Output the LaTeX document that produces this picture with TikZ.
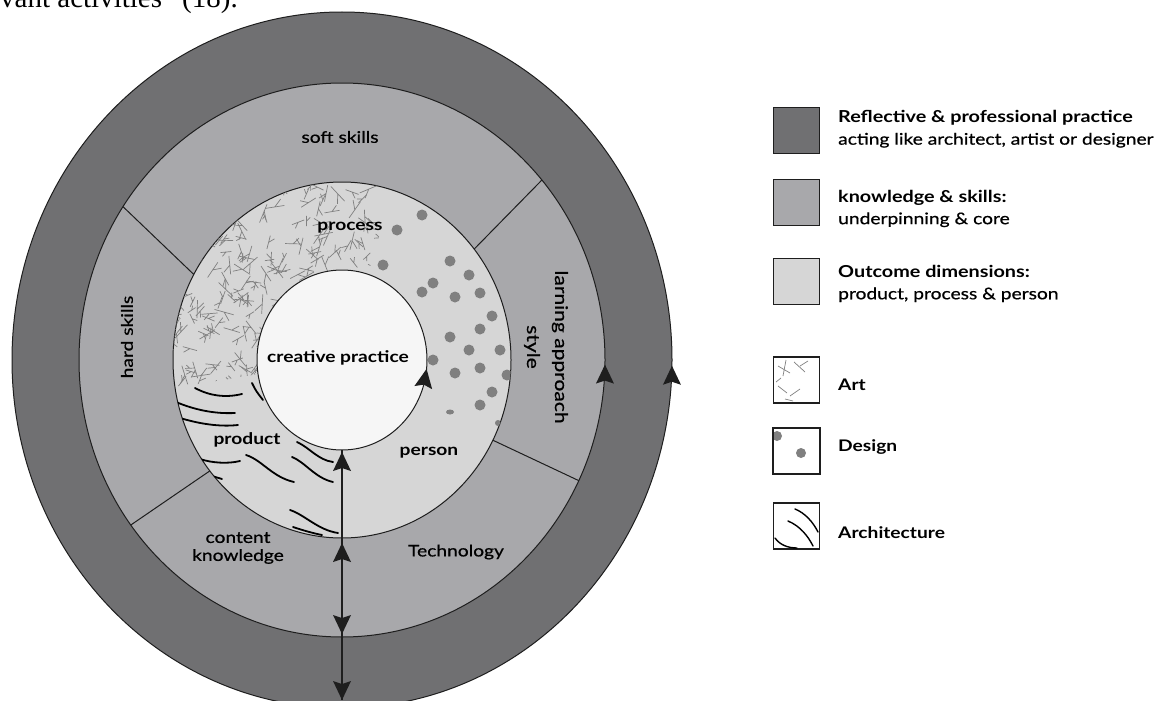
\documentclass[tikz,border=0pt]{standalone}
\usepackage{fontspec}
\setmainfont{Lato}[FakeStretch=1.2]
\newfontfamily\medfont{Lato}[FakeStretch=1.2,FakeBold=0.7]
\newfontfamily\serifx{Liberation Serif}
\newcommand\lgheadfont{\normalfont\bfseries\fontsize{16.5}{22}\selectfont}
\usetikzlibrary{arrows.meta,shapes.geometric,calc}
\definecolor{ringdark}{RGB}{112,112,114}
\definecolor{ringmid}{RGB}{168,168,171}
\definecolor{ringlight}{RGB}{214,214,214}
\definecolor{corec}{RGB}{246,246,246}
\definecolor{edgec}{RGB}{30,30,30}
\definecolor{artc}{RGB}{128,128,128}
\definecolor{dotc}{RGB}{128,128,128}
\begin{document}
\begin{tikzpicture}[x=1pt,y=-1pt,
  ring/.style={ellipse, draw=edgec, line width=1pt, inner sep=0pt, outer sep=0pt},
  divider/.style={draw=edgec, line width=1pt},
  lbl/.style={font=\medfont\fontsize{16}{18}\selectfont, text=black, align=center, inner sep=1pt},
  blbl/.style={font=\bfseries\fontsize{16}{18}\selectfont, text=black, align=center, inner sep=1pt},
  lgbox/.style={draw=edgec, line width=1.4pt, minimum width=46pt, minimum height=46pt, inner sep=0pt},
  lgtext/.style={font=\medfont\fontsize{16}{22}\selectfont, align=left, anchor=west, inner sep=0pt, text=black},
  artline/.style={draw=artc, line width=0.7pt},
  archline/.style={draw=black, line width=1.8pt, line cap=round},
  uptip/.pic={\fill[edgec] (0,0) -- (-9,19) -- (0,16) -- (9,19) -- cycle;},
  axis/.style={draw=edgec, line width=1.2pt}]
\useasboundingbox (0,0) rectangle (1167,701);
\fill[white] (0,0) rectangle (1167,701);

% clipped caption line of the surrounding text
\node[font=\serifx\fontsize{29}{29}\selectfont, anchor=base west, inner sep=0pt] (cap) at (0,8) {vant activities” (18).};

% rings
\node[ring, fill=ringdark, minimum width=660pt, minimum height=696pt] (outerE) at (342,360) {};
\node[ring, fill=ringmid, minimum width=526pt, minimum height=554pt] (know) at (342,360) {};
\node[ring, fill=ringlight, minimum width=338pt, minimum height=356pt] (outcome) at (342,360) {};

% dividers
\draw[divider] (outcome.150) -- (know.145);
\draw[divider] (outcome.40) -- (know.42);
\draw[divider] (outcome.-28) -- (know.-27);
\draw[divider] (outcome.220) -- (know.218);

% textures
\begin{scope}
  \clip (342,360) ellipse [x radius=169pt, y radius=178pt];
  % Art
  \begin{scope}
    \clip (342,360) -- (405,150) -- (150,150) -- (150,392) -- cycle;
    \pgfmathsetseed{12}
    \foreach \i in {1,...,320}{
      \pgfmathsetmacro\xx{165+240*rnd}
      \pgfmathsetmacro\yy{178+222*rnd}
      \pgfmathsetmacro\aa{360*rnd}
      \pgfmathsetmacro\ll{9+11*rnd}
      \pgfmathsetmacro\hl{\ll/2}
      \pgfmathsetmacro\bb{\aa+(rnd>0.5?45:-45)}
      \draw[artline] (\xx,\yy) -- ++(\aa:\ll) (\xx,\yy) ++(\aa:\hl) -- ++(\bb:\hl);
    }
  \end{scope}
  % Design
  \foreach \p in {(397,230),(422,215),(383,265),(450,261),(469,275),(433,283),(422,292),(455,297),(480,293),(492,316),(480,329),(450,337),(469,350),(500,350),(433,360),(455,373),(480,368),(507,375),(492,392),(480,405)}
    \fill[dotc] \p circle (5.5pt);
  \fill[dotc] (450,412) ellipse [x radius=4pt, y radius=2.5pt];
  \fill[dotc] (498,423) circle (3pt);
  % Architecture
  \draw[archline] (195,388) .. controls (210,396) and (225,398) .. (242,394);
  \draw[archline] (176,402) .. controls (195,410) and (215,414) .. (235,413);
  \draw[archline] (180,418) .. controls (200,424) and (220,427) .. (238,425);
  \draw[archline] (200,459) .. controls (212,463) and (228,464) .. (240,461);
  \draw[archline] (246,455) .. controls (262,460) and (272,477) .. (294,482);
  \draw[archline] (292,457) .. controls (305,462) and (315,478) .. (333,482);
  \draw[archline] (297,442) .. controls (310,448) and (318,460) .. (333,462);
  \draw[archline] (290,510) .. controls (305,515) and (318,530) .. (338,533);
  \draw[archline] (293,527) .. controls (302,530) and (312,533) .. (322,535);
  \draw[archline] (252,383) .. controls (256,391) .. (263,400);
  \draw[archline] (377,536) -- (392,539);
  \draw[archline] (212,476) -- (222,479);
\end{scope}

\node[ring, fill=corec, minimum width=170pt, minimum height=180pt] (inner) at (342,360) {};

% axis with arrowheads
\coordinate (bot) at (342,700);
\draw[axis] (inner.south) -- (bot);
\pic at ($(inner.south)+(0,2)$) {uptip};
\pic at ($(outcome.south)+(0,5)$) {uptip};
\pic[rotate=180] at ($(know.south)+(0,-3)$) {uptip};
\pic[rotate=180] at (bot) {uptip};

% rotation arrowheads
\pic[rotate=-10] at (inner.-6) {uptip};
\pic at (know.-1) {uptip};
\pic at (outerE.-1) {uptip};

% labels
\node[lbl] (soft) at (340,137) {soft skills};
\node[lbl, rotate=90] (hard) at (127,337) {hard skills};
\node[lbl, rotate=-90, font=\medfont\fontsize{17.5}{28}\selectfont] (lrn) at (546,347) {larning approach\\style};
\node[lbl] (content) at (238,548) {content\\knowledge};
\node[lbl] (tech) at (456,552) {Technology};
\node[blbl] (proc) at (350,228) {process};
\node[blbl] (prod) at (247,440) {product};
\node[blbl] (pers) at (429,453) {person};
\node[blbl] (cp) at (338,358) {creative practice};

% legend
\node[lgbox, fill=ringdark] (b1) at (796.5,130.5) {};
\node[lgtext] (t1) at (838,129) {{\lgheadfont Reflective \& professional practice}\\acting like architect, artist or designer};
\node[lgbox, fill=ringmid] (b2) at (796.5,202.5) {};
\node[lgtext] (t2) at (838,208.5) {{\lgheadfont knowledge \& skills:}\\underpinning \& core};
\node[lgbox, fill=ringlight] (b3) at (796.5,281.5) {};
\node[lgtext] (t3) at (838,283.5) {{\lgheadfont Outcome dimensions:}\\product, process \& person};

\node[lgbox, fill=white] (b4) at (796.5,380) {};
\draw[artline] (778,366) -- (790,373) (786,360) -- (783,376) (794,362) -- (805,372) (800,366) -- (808,361) (778,386) -- (787,393) (790,396) -- (800,389) (785,399) -- (793,401) (781,378) -- (776,382);
\node[lgtext, font=\bfseries\fontsize{16}{22}\selectfont] (t4) at (838,385) {Art};

\node[lgbox, fill=white] (b5) at (796.5,451) {};
\begin{scope}
  \clip (b5.south west) rectangle (b5.north east);
  \fill[dotc] (777,436) circle (5pt);
\end{scope}
\fill[dotc] (801,453) circle (5pt);
\draw[lgbox, fill=none] (b5.south west) rectangle (b5.north east);
\node[lgtext, font=\bfseries\fontsize{16}{22}\selectfont] (t5) at (838,447) {Design};

\node[lgbox, fill=white] (b6) at (796.5,526) {};
\draw[archline, line width=1.4pt] (795,509) .. controls (805,513) and (813,522) .. (818,532);
\draw[archline, line width=1.4pt] (788,521) .. controls (800,526) and (808,536) .. (813,546);
\draw[archline, line width=1.4pt] (775,538) .. controls (780,545) and (788,548) .. (797,548);
\node[lgtext, font=\bfseries\fontsize{16}{22}\selectfont] (t6) at (838,533) {Architecture};
\end{tikzpicture}
\end{document}
